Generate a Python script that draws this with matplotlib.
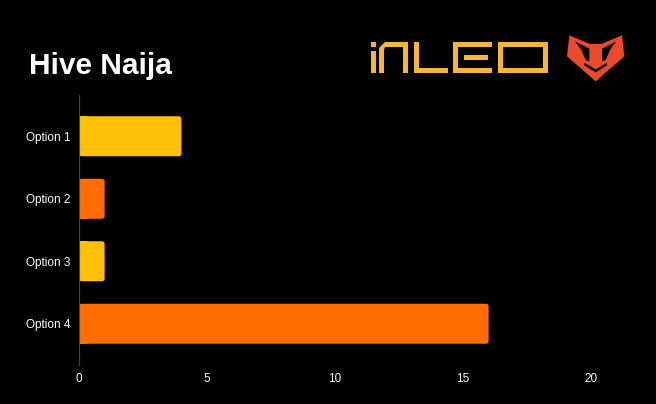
import matplotlib
matplotlib.use("Agg")
import matplotlib.pyplot as plt
from matplotlib.patches import Polygon, FancyBboxPatch, Rectangle

categories = ["Option 1", "Option 2", "Option 3", "Option 4"]
values = [4, 1, 1, 16]
bar_colors = ["#FFC107", "#FF6D00", "#FFC107", "#FF6D00"]
x_ticks = [0, 5, 10, 15, 20]
title = "Hive Naija"

W, H = 656, 404
fig = plt.figure(figsize=(W / 100, H / 100), dpi=100, facecolor="black")
plt.rcParams["font.family"] = ["Liberation Sans", "DejaVu Sans"]

ax = fig.add_axes([79 / W, 1 - 365 / H, (640 - 79) / W, (365 - 95) / H])
ax.set_facecolor("black")
ypos = list(range(len(categories)))
bars = ax.barh(ypos, values, height=0.64, color=bar_colors, zorder=2)
for b in bars:
    b.set_visible(False)
    x0, y0 = b.get_x(), b.get_y()
    w, h = b.get_width(), b.get_height()
    ax.add_patch(FancyBboxPatch((x0, y0), w, h,
                                boxstyle="round,pad=0,rounding_size=0.1",
                                mutation_aspect=0.41,
                                facecolor=b.get_facecolor(), edgecolor="none", zorder=2))
    ax.add_patch(Rectangle((x0, y0), min(w, 0.3), h, facecolor=b.get_facecolor(),
                           edgecolor="none", zorder=2))
ax.set_yticks(ypos)
ax.set_yticklabels(categories)
ax.set_ylim(3.66, -0.66)
ax.set_xlim(0, (640 - 79) / 25.6)
ax.set_xticks(x_ticks)
ax.tick_params(colors="white", labelsize=8.5, length=0, pad=6)
for s in ["top", "right", "bottom"]:
    ax.spines[s].set_visible(False)
ax.spines["left"].set_color("#444444")
ax.spines["left"].set_linewidth(0.8)

fig.text(29 / W, 1 - 66 / H, title, color="white", fontsize=21.5, fontweight="bold",
         va="center", ha="left")

# Logo overlay (decoration)
lx = fig.add_axes([0, 0, 1, 1], facecolor="none")
lx.set_xlim(0, W)
lx.set_ylim(H, 0)
lx.axis("off")
gold = "#F5B731"

def rect(x, y, w, h, c=gold):
    lx.add_patch(Rectangle((x, y), w, h, color=c, lw=0))

def poly(pts, c):
    lx.add_patch(Polygon(pts, closed=True, color=c, lw=0))

t = 5
# I
rect(371, 42, t, 5)
rect(371, 51, t, 22)
# N
poly([(379, 73), (379, 48), (385, 42), (408, 42), (408, 73), (408 - t, 73),
      (408 - t, 42 + t), (385, 42 + t), (379 + t, 50), (379 + t, 73)], gold)
# L
rect(414, 42, t, 31)
rect(414, 73 - t, 34, t)
# E
rect(453, 42, 39, t)
rect(453, 42, t, 31)
rect(453, 73 - t, 39, t)
rect(464, 55, 24, t)
# O
rect(498, 42, 50, 31)
rect(498 + t, 42 + t, 50 - 2 * t, 31 - 2 * t, "black")

red = "#E84A2A"
def z(pts):
    return [(555 + a / 3, 28 + b / 3) for a, b in pts]
poly(z([(43, 22), (105, 48), (139, 48), (201, 22), (208, 85), (122, 160), (36, 85)]), red)
poly(z([(60, 40), (103, 62), (103, 100), (92, 96), (78, 64)]), "black")
poly(z([(184, 40), (141, 62), (141, 100), (152, 96), (166, 64)]), "black")
poly(z([(88, 104), (122, 124), (156, 104), (156, 112), (122, 133), (88, 112)]), "black")

fig.savefig("out.png", dpi=100, facecolor="black")
